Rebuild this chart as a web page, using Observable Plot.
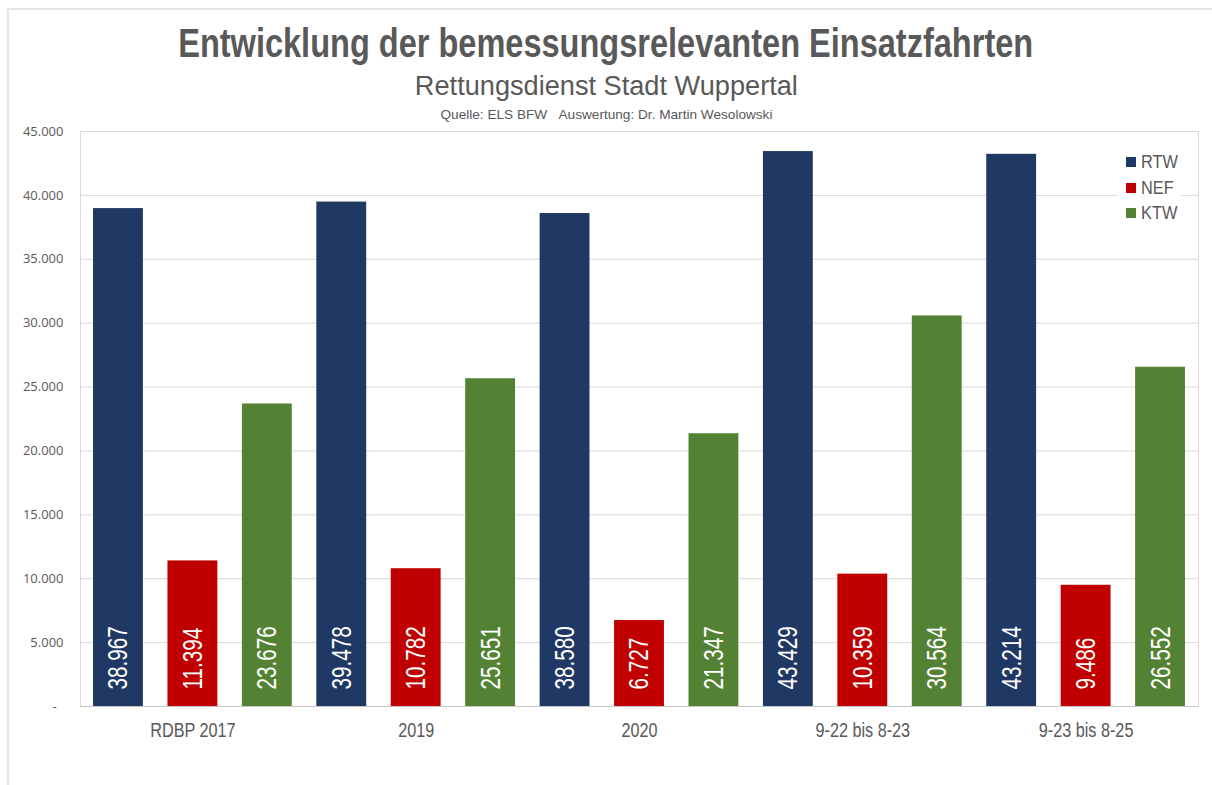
<!DOCTYPE html>
<html><head><meta charset="utf-8">
<script src="https://cdn.jsdelivr.net/npm/d3@7"></script>
<script src="https://cdn.jsdelivr.net/npm/@observablehq/plot@0.6"></script>
<style>
body{margin:0;background:#fff;}
#wrap{position:relative;width:1212px;height:785px;overflow:hidden;background:#fff;}
#box{position:absolute;left:7px;top:8px;width:1220px;height:800px;border-top:2px solid #e4e4e4;border-left:2px solid #e4e4e4;}
#head{position:relative;height:120px;}
.t{position:absolute;left:0;width:1212px;text-align:center;color:#595959;white-space:nowrap;line-height:1;font-family:"Liberation Sans",Arial,sans-serif;}
.t span{display:inline-block;transform-origin:center center;}
#chart{position:relative;}
#legend{position:absolute;left:1117px;top:148px;width:63px;height:78px;background:#fff;}
.li{position:absolute;left:0;height:20px;font-family:"Liberation Sans",Arial,sans-serif;font-size:19px;color:#595959;line-height:20px;white-space:nowrap;}
.li i{position:absolute;left:9px;top:5px;width:10px;height:10px;}
.li b{position:absolute;left:24px;top:0;font-weight:normal;transform:scaleX(0.86);transform-origin:left center;}
</style>
</head><body>
<div id="wrap">
  <div id="box"></div>
  <div id="head">
    <div class="t" style="top:23px;font-size:40px;font-weight:bold;"><span data-w="855">Entwicklung der bemessungsrelevanten Einsatzfahrten</span></div>
    <div class="t" style="top:73px;font-size:27px;"><span data-w="383">Rettungsdienst Stadt Wuppertal</span></div>
    <div class="t" style="top:108px;font-size:13px;"><span data-w="332">Quelle: ELS BFW&nbsp;&nbsp;&nbsp;Auswertung: Dr. Martin Wesolowski</span></div>
  </div>
  <div id="chart"></div>
  <div id="legend"></div>
</div>
<script>
const groups = ["RDBP 2017", "2019", "2020", "9-22 bis 8-23", "9-23 bis 8-25"];
const series = ["RTW", "NEF", "KTW"];
const rtw = [38967, 39478, 38580, 43429, 43214];
const nef = [11394, 10782, 6727, 10359, 9486];
const ktw = [23676, 25651, 21347, 30564, 26552];
const colors = ["#1F3864", "#C00000", "#548235"];
const yTicks = [0, 5000, 10000, 15000, 20000, 25000, 30000, 35000, 40000, 45000];

const seriesValues = [rtw, nef, ktw];
const data = [];
groups.forEach((g, gi) => {
  series.forEach((s, si) => {
    data.push({group: g, series: s, value: seriesValues[si][gi], key: g + "|" + s});
  });
});
const keys = data.map(d => d.key);
const de = v => d3.format(",")(v).replace(/,/g, ".");
const deTick = v => v === 0 ? "-\u00a0\u00a0" : de(v);
const sans = "'Liberation Sans',Arial,sans-serif";

const chart = Plot.plot({
  width: 1212,
  height: 665,
  marginLeft: 80,
  marginRight: 14,
  marginTop: 11,
  marginBottom: 79,
  style: {background: "transparent", fontFamily: sans},
  x: {domain: keys, paddingInner: 0.33, paddingOuter: 0.175, round: false, axis: null},
  y: {domain: [0, 45000], axis: null},
  color: {domain: series, range: colors},
  marks: [
    Plot.gridY(yTicks, {stroke: "#d9d9d9", strokeOpacity: 1}),
    Plot.frame({stroke: "#d9d9d9"}),
    Plot.barY(data, {x: "key", y: "value", fill: "series"}),
    Plot.ruleY([0], {stroke: "#c8c8c8"}),
    Plot.text(data, {x: "key", y: () => 0, text: d => de(d.value), rotate: -90, textAnchor: "start", lineAnchor: "middle", dy: -17, fill: "white", fontSize: 28, fontFamily: sans}),
    Plot.axisY(yTicks, {tickSize: 0, tickPadding: 17, tickFormat: deTick, fontSize: 13, fill: "#595959", fontFamily: "'Open Sans','Liberation Sans',sans-serif", label: null}),
    Plot.axisX(keys.filter(k => k.endsWith("|NEF")), {tickSize: 0, tickPadding: 16, tickFormat: k => k.split("|")[0], fontSize: 20, fill: "#595959", fontFamily: sans, label: null})
  ]
});
document.getElementById("chart").appendChild(chart);

function condense(selector, factor) {
  chart.querySelectorAll(selector).forEach(t => {
    const L = t.getComputedTextLength();
    if (L > 0) {
      t.setAttribute("textLength", (L * factor).toFixed(1));
      t.setAttribute("lengthAdjust", "spacingAndGlyphs");
    }
  });
}
condense('g[aria-label="text"] text', 0.74);
condense('g[aria-label="x-axis tick label"] text', 0.81);

const legend = document.getElementById("legend");
const rowTops = [4, 30, 55];
series.forEach((s, i) => {
  const row = document.createElement("div");
  row.className = "li";
  row.style.top = rowTops[i] + "px";
  row.innerHTML = `<i style="background:${colors[i]}"></i><b>${s}</b>`;
  legend.appendChild(row);
});

document.querySelectorAll("span[data-w]").forEach(sp => {
  const w = sp.getBoundingClientRect().width;
  const target = +sp.dataset.w;
  sp.style.transform = `scaleX(${target / w})`;
});
</script>
</body></html>
